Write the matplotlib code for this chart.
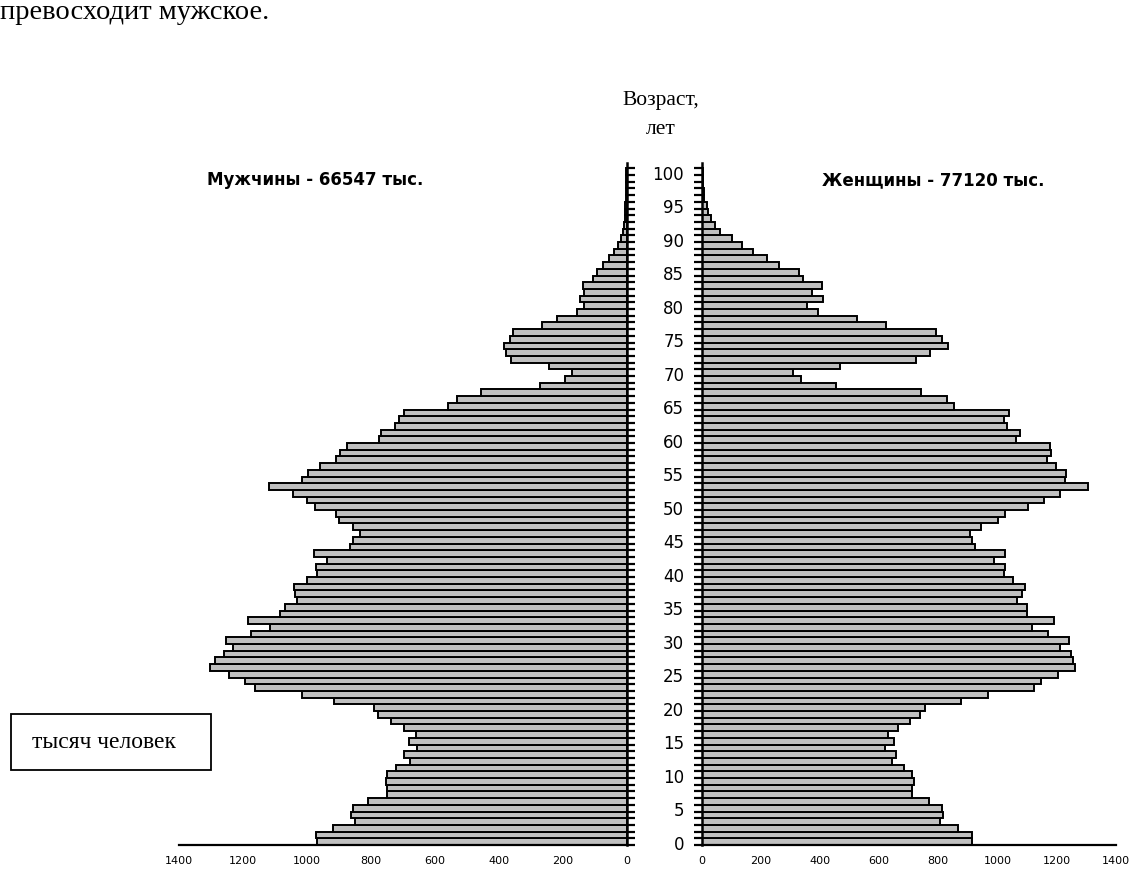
import numpy as np
import matplotlib
matplotlib.use("Agg")
import matplotlib.pyplot as plt
from matplotlib.patches import Rectangle

ages = list(range(101))

men = [969, 970, 917, 849, 862, 856, 810, 748, 748, 753,
       748, 721, 677, 695, 654, 680, 660, 696, 737, 778,
       790, 914, 1016, 1163, 1194, 1242, 1302, 1285, 1257, 1229,
       1253, 1174, 1115, 1184, 1085, 1068, 1031, 1036, 1040, 1000,
       969, 972, 938, 977, 865, 854, 833, 856, 900, 909,
       974, 998, 1042, 1117, 1016, 997, 960, 908, 896, 873,
       774, 768, 724, 711, 696, 557, 531, 455, 271, 193,
       172, 242, 361, 377, 385, 365, 354, 266, 217, 154,
       133, 146, 132, 137, 106, 94, 75, 55, 40, 27,
       19, 12, 8, 6, 5, 4, 3, 2, 1, 1, 2]

women = [913, 913, 866, 805, 816, 814, 769, 711, 713, 717,
         711, 685, 644, 657, 620, 650, 630, 665, 706, 738,
         755, 876, 969, 1123, 1149, 1204, 1261, 1256, 1250, 1213,
         1241, 1170, 1117, 1192, 1100, 1100, 1067, 1084, 1095, 1052,
         1022, 1027, 988, 1025, 926, 915, 906, 946, 1002, 1027,
         1104, 1157, 1213, 1306, 1229, 1232, 1199, 1168, 1182, 1179,
         1063, 1076, 1033, 1022, 1039, 853, 831, 741, 453, 337,
         309, 469, 724, 773, 834, 814, 792, 622, 524, 395,
         355, 411, 374, 406, 343, 330, 263, 222, 175, 137,
         102, 64, 46, 33, 22, 18, 10, 7, 5, 4, 6]

x_ticks = [0, 200, 400, 600, 800, 1000, 1200, 1400]
age_ticks = list(range(0, 101, 5))

men_title = "Мужчины - 66547 тыс."
women_title = "Женщины - 77120 тыс."
age_title1 = "Возраст,"
age_title2 = "лет"
unit_label = "тысяч человек"
top_text = "превосходит мужское."

W, H = 1137, 870
fig = plt.figure(figsize=(W / 100, H / 100), dpi=100)
fig.patch.set_facecolor("white")

def fx(x):
    return x / W

def fy(y):
    return 1 - y / H

bar_color = "#c0c0c0"
ylo, yhi = -0.5, 101.3
ax_bottom = fy(846)
ax_height = fy(164) - fy(846)

axL = fig.add_axes([fx(178.7), ax_bottom, fx(626.7) - fx(178.7), ax_height])
axR = fig.add_axes([fx(701.5), ax_bottom, fx(1115.7) - fx(701.5), ax_height])

axL.barh(ages, men, height=1.0, color=bar_color, edgecolor="black", linewidth=1.4)
axR.barh(ages, women, height=1.0, color=bar_color, edgecolor="black", linewidth=1.4)

minor = np.arange(-0.5, 101.0, 1.0)
for ax in (axL, axR):
    ax.set_ylim(ylo, yhi)
    ax.set_xticks(x_ticks)
    ax.set_xticklabels([str(t) for t in x_ticks], fontsize=8, family="DejaVu Sans")
    ax.tick_params(axis="x", length=0, pad=7)
    ax.set_facecolor("none")
    for s in ax.spines.values():
        s.set_visible(False)
    ax.spines["bottom"].set_visible(True)
    ax.spines["bottom"].set_linewidth(1.6)

axL.set_xlim(1400, 0)
axR.set_xlim(0, 1400)

# left chart: vertical axis on the right (at 0)
axL.spines["right"].set_visible(True)
axL.spines["right"].set_linewidth(1.8)
axL.yaxis.tick_right()
axL.set_yticks(age_ticks)
axL.set_yticklabels([])
axL.set_yticks(minor, minor=True)
axL.tick_params(axis="y", which="major", length=0)
axL.tick_params(axis="y", which="minor", length=5.5, width=1.6, direction="out")

# right chart: vertical axis on the left with age labels
axR.spines["left"].set_visible(True)
axR.spines["left"].set_linewidth(1.8)
axR.set_yticks(age_ticks)
axR.set_yticklabels([str(a) for a in age_ticks], fontsize=12, family="DejaVu Sans")
axR.set_yticks(minor, minor=True)
axR.tick_params(axis="y", which="major", length=0, pad=12.5)
axR.tick_params(axis="y", which="minor", length=5.5, width=1.6, direction="out")

# titles
fig.text(fx(315), fy(180), men_title, ha="center", va="center",
         fontsize=12, fontweight="bold", family="DejaVu Sans")
fig.text(fx(933), fy(180), women_title, ha="center", va="center",
         fontsize=12, fontweight="bold", family="DejaVu Sans")
fig.text(fx(661), fy(101), age_title1, ha="center", va="center",
         fontsize=15.5, family="Liberation Serif")
fig.text(fx(661), fy(130), age_title2, ha="center", va="center",
         fontsize=15.5, family="Liberation Serif")

# top cut-off text
fig.text(fx(0), fy(19), top_text, ha="left", va="baseline",
         fontsize=20.5, family="Liberation Serif")

# unit box
fig.patches.append(Rectangle((fx(11), fy(771)), fx(211) - fx(11), fy(715) - fy(771),
                             transform=fig.transFigure, facecolor="white",
                             edgecolor="black", linewidth=1.3))
fig.text(fx(32), fy(743), unit_label, ha="left", va="center",
         fontsize=17, family="Liberation Serif")

fig.savefig("out.png", dpi=100, facecolor="white")
